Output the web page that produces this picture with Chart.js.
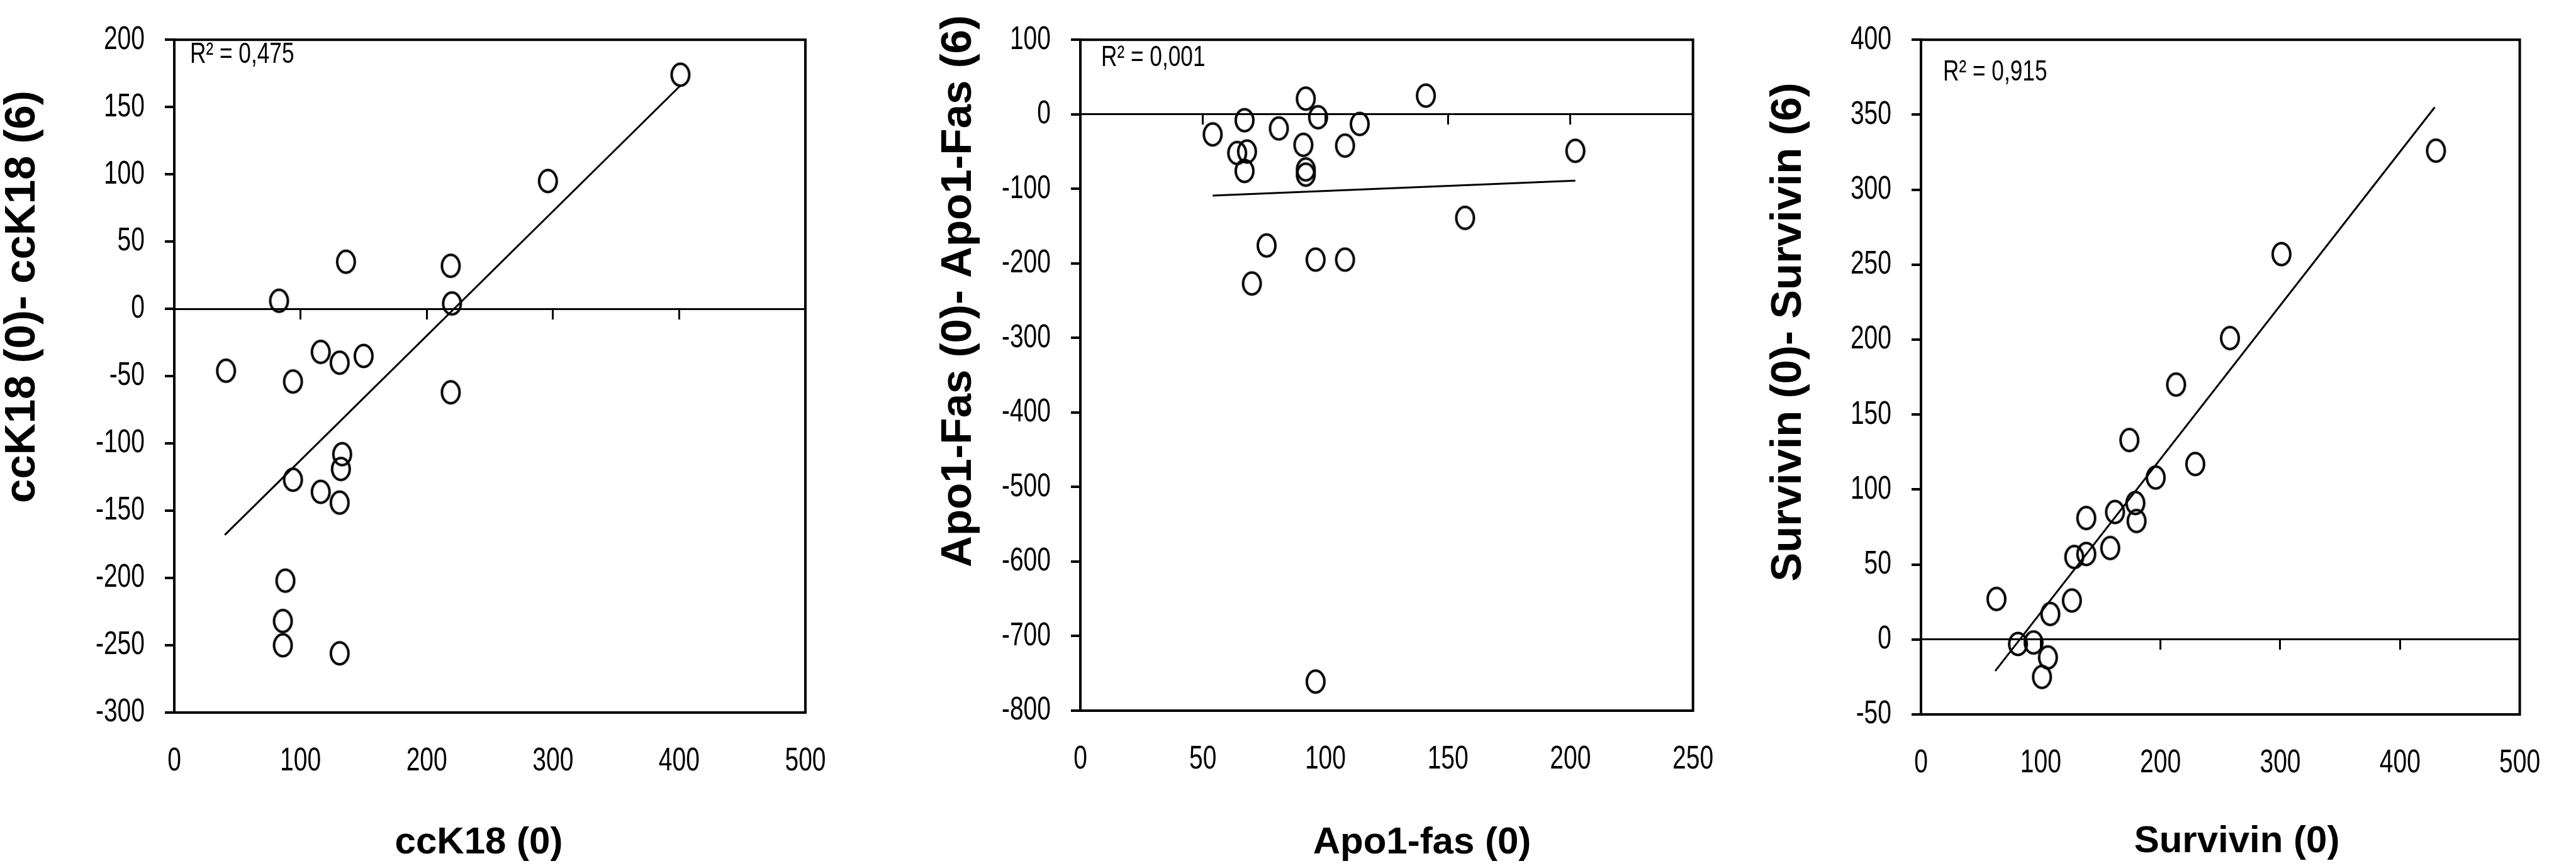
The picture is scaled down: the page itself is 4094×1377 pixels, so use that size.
<!DOCTYPE html>
<html>
<head>
<meta charset="utf-8">
<script src="https://cdn.jsdelivr.net/npm/chart.js@4/dist/chart.umd.min.js"></script>
<style>
html, body { margin: 0; padding: 0; background: #fff; }
#wrap { position: relative; width: 4094px; height: 1377px; background: #fff; }
canvas { position: absolute; top: 0; }
</style>
</head>
<body>
<div id="wrap">
  <canvas id="c1" width="1420" height="1377" style="left:0px;width:1420px;height:1377px"></canvas>
  <canvas id="c2" width="1360" height="1377" style="left:1420px;width:1360px;height:1377px"></canvas>
  <canvas id="c3" width="1314" height="1377" style="left:2780px;width:1314px;height:1377px"></canvas>
</div>
<script>
// ccK18 panel
var ck18_x = [401, 296, 136, 219, 83, 220, 116, 150, 131, 41, 94, 219, 133, 132, 94, 116, 131, 88, 86, 86, 131];
var ck18_y = [174, 95, 35, 32, 6, 4, -32, -35, -40, -46, -54, -62, -108, -119, -127, -136, -144, -202, -232, -250, -256];
var ck18_trendX = [40, 401];
var ck18_trendY = [-168, 166];
var ck18_xTicks = [0, 100, 200, 300, 400, 500];
var ck18_yTicks = [-300, -250, -200, -150, -100, -50, 0, 50, 100, 150, 200];

// Apo1-Fas panel
var apo_x = [92, 141, 67, 97, 114, 54, 81, 91, 108, 64, 68, 202, 67, 92, 92, 157, 76, 96, 108, 70, 96];
var apo_y = [21, 25, -8, -4, -13, -27, -19, -41, -42, -52, -50, -49, -76, -74, -81, -139, -176, -195, -195, -227, -761];
var apo_trendX = [54, 202];
var apo_trendY = [-109, -89];
var apo_xTicks = [0, 50, 100, 150, 200, 250];
var apo_yTicks = [-800, -700, -600, -500, -400, -300, -200, -100, 0, 100];

// Survivin panel
var surv_x = [430, 301, 258, 213, 174, 229, 196, 179, 162, 138, 180, 158, 128, 138, 126, 63, 108, 81, 94, 106, 101];
var surv_y = [326, 257, 201, 170, 133, 117, 108, 91, 85, 81, 79, 61, 55, 57, 26, 27, 17, -3, -2, -12, -25];
var surv_trendX = [62, 429];
var surv_trendY = [-21, 355];
var surv_xTicks = [0, 100, 200, 300, 400, 500];
var surv_yTicks = [-50, 0, 50, 100, 150, 200, 250, 300, 350, 400];

var r2Labels = ['R\u00b2 = 0,475', 'R\u00b2 = 0,001', 'R\u00b2 = 0,915'];
var xTitles = ['ccK18 (0)', 'Apo1-fas (0)', 'Survivin (0)'];
var yTitles = ['ccK18 (0)- ccK18 (6)', 'Apo1-Fas (0)- Apo1-Fas (6)', 'Survivin (0)- Survivin (6)'];

// no narrow font installed: text set in this family gets squeezed below
var NARROW = "'Liberation Sans Narrow', 'Liberation Sans', sans-serif";
var BOLDF = "'Liberation Sans', Arial, sans-serif";
var SQUEEZE = 0.75;

Chart.defaults.color = '#000';

function pts(xs, ys) {
  return xs.map(function (x, i) { return { x: x, y: ys[i] }; });
}

// hollow oval marker
function ring() {
  var c = document.createElement('canvas');
  c.width = 38; c.height = 46;
  var g = c.getContext('2d');
  g.strokeStyle = '#000';
  g.lineWidth = 4;
  g.beginPath();
  g.ellipse(19, 23, 14, 17.5, 0, 0, 2 * Math.PI);
  g.stroke();
  return c;
}
var marker = ring();

var narrowText = {
  id: 'narrowText',
  beforeDraw: function (chart) {
    var ctx = chart.ctx;
    if (ctx._narrow) return;
    var fill = ctx.fillText;
    ctx.fillText = function (t, x, y, w) {
      if (this.font.indexOf('Narrow') < 0) return fill.call(this, t, x, y, w);
      this.save();
      this.translate(x, y);
      this.scale(SQUEEZE, 1);
      fill.call(this, t, 0, 0);
      this.restore();
    };
    ctx._narrow = true;
  }
};

// frame, R2 text and axis titles
var decor = {
  id: 'decor',
  afterDatasetsDraw: function (chart, args, o) {
    var a = chart.chartArea, ctx = chart.ctx;
    ctx.save();
    ctx.strokeStyle = '#000';
    ctx.lineWidth = 4;
    ctx.strokeRect(a.left, a.top, a.right - a.left, a.bottom - a.top);
    ctx.fillStyle = '#000';
    ctx.textBaseline = 'alphabetic';
    ctx.textAlign = 'left';
    ctx.font = '47px ' + NARROW;
    ctx.fillText(o.r2, o.r2x, o.r2y);
    ctx.textAlign = 'center';
    ctx.font = 'bold 60px ' + BOLDF;
    ctx.fillText(o.xTitle, o.xTitleX, o.xTitleY);
    ctx.translate(o.yTitleX, o.yTitleY);
    ctx.rotate(-Math.PI / 2);
    ctx.font = 'bold 69px ' + BOLDF;
    ctx.fillText(o.yTitle, 0, 0);
    ctx.restore();
  }
};

function makePanel(id, xs, ys, tx, ty, xTicks, yTicks, p) {
  var tickFont = { family: NARROW, size: 52 };
  return new Chart(document.getElementById(id), {
    type: 'scatter',
    data: {
      datasets: [{
        data: pts(xs, ys),
        pointStyle: marker,
        pointRadius: 18,
        showLine: false,
        xAxisID: 'x', yAxisID: 'y'
      }, {
        data: pts(tx, ty),
        showLine: true,
        pointRadius: 0,
        borderColor: '#000',
        borderWidth: 3,
        xAxisID: 'x', yAxisID: 'y'
      }]
    },
    options: {
      responsive: false,
      animation: false,
      devicePixelRatio: 1,
      layout: { padding: { left: 0, right: p.padRight, top: p.padTop, bottom: 0 } },
      plugins: {
        legend: { display: false },
        tooltip: { enabled: false },
        decor: p.decor
      },
      scales: {
        x: {
          type: 'linear', position: 'bottom',
          min: xTicks[0], max: xTicks[xTicks.length - 1],
          ticks: { stepSize: xTicks[1] - xTicks[0], font: tickFont, padding: 46, color: '#000' },
          grid: { display: false, drawTicks: false },
          border: { display: true, color: '#000', width: 4 },
          afterFit: function (s) { s.height = p.xHeight; }
        },
        y: {
          type: 'linear', position: 'left',
          min: yTicks[0], max: yTicks[yTicks.length - 1],
          ticks: { stepSize: yTicks[1] - yTicks[0], font: tickFont, padding: 32, color: '#000' },
          grid: { drawOnChartArea: false, drawTicks: true, tickLength: 15, color: '#000', lineWidth: 4 },
          border: { display: true, color: '#000', width: 4 },
          afterFit: function (s) { s.width = p.yWidth; }
        },
        // horizontal axis line crossing at y = 0, tick marks pointing down
        x0: {
          type: 'linear', position: { y: 0 },
          min: xTicks[0], max: xTicks[xTicks.length - 1],
          ticks: { display: false, stepSize: xTicks[1] - xTicks[0] },
          grid: { drawOnChartArea: false, drawTicks: true, tickLength: 15, color: '#000', lineWidth: 3 },
          border: { display: true, color: '#000', width: 3 }
        }
      }
    },
    plugins: [narrowText, decor]
  });
}

makePanel('c1', ck18_x, ck18_y, ck18_trendX, ck18_trendY, ck18_xTicks, ck18_yTicks, {
  padRight: 140, padTop: 28, xHeight: 244, yWidth: 277,
  decor: { r2: r2Labels[0], r2x: 302, r2y: 100, xTitle: xTitles[0], xTitleX: 761, xTitleY: 1357,
           yTitle: yTitles[0], yTitleX: 55, yTitleY: 472 }
});

makePanel('c2', apo_x, apo_y, apo_trendX, apo_trendY, apo_xTicks, apo_yTicks, {
  padRight: 65, padTop: 28, xHeight: 247, yWidth: 297,
  decor: { r2: r2Labels[1], r2x: 330, r2y: 105, xTitle: xTitles[1], xTitleX: 840, xTitleY: 1357,
           yTitle: yTitles[1], yTitleX: 123, yTitleY: 463 }
});

makePanel('c3', surv_x, surv_y, surv_trendX, surv_trendY, surv_xTicks, surv_yTicks, {
  padRight: 41, padTop: 52, xHeight: 241, yWidth: 273,
  decor: { r2: r2Labels[2], r2x: 308, r2y: 128, xTitle: xTitles[2], xTitleX: 775, xTitleY: 1355,
           yTitle: yTitles[2], yTitleX: 82, yTitleY: 528 }
});
</script>
</body>
</html>
